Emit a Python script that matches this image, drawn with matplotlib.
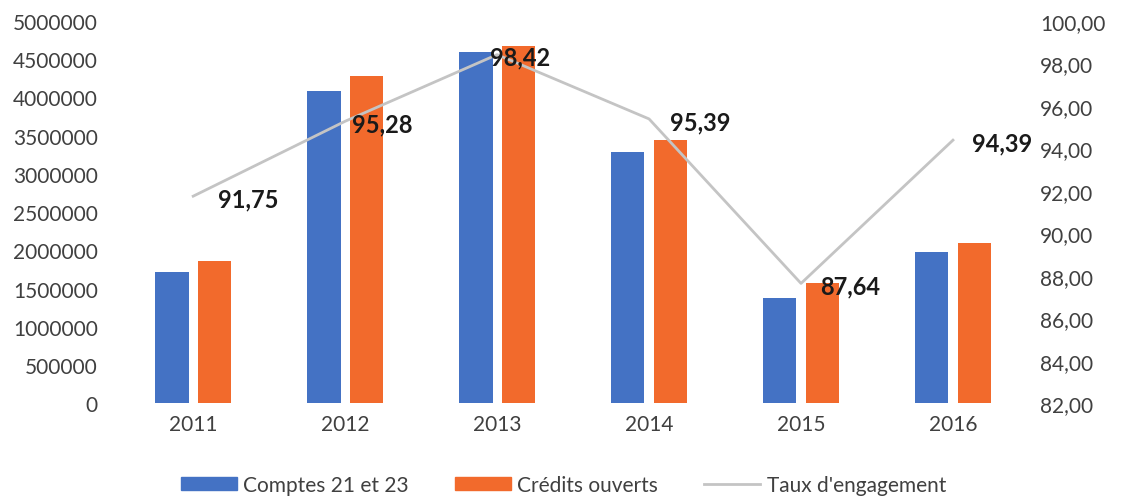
import matplotlib.pyplot as plt
import numpy as np
from matplotlib.patches import Patch
from matplotlib.lines import Line2D

years = ['2011', '2012', '2013', '2014', '2015', '2016']
comptes = [1720000, 4090000, 4600000, 3290000, 1380000, 1980000]
credits = [1860000, 4280000, 4680000, 3450000, 1570000, 2100000]
taux = [91.75, 95.28, 98.42, 95.39, 87.64, 94.39]

blue = '#4472C4'
orange = '#F26A2C'
grey = '#C4C4C4'

plt.rcParams['font.family'] = ['Lato', 'DejaVu Sans']

fig = plt.figure(figsize=(11.27, 5.02), dpi=100)
ax = fig.add_axes([0.104, 0.195, 0.809, 0.761])
x = np.arange(len(years))
w = 0.22
ax.bar(x - 0.14, comptes, w, color=blue)
ax.bar(x + 0.14, credits, w, color=orange)
ax.set_xlim(-0.5, 5.5)
ax.set_ylim(0, 5000000)
ax.set_yticks(np.arange(0, 5000001, 500000))
ax.set_yticklabels([str(v) for v in range(0, 5000001, 500000)], fontsize=15, color='#404040')
ax.set_xticks(x)
ax.set_xticklabels(years, fontsize=15, color='#404040')
ax.tick_params(length=0, pad=8)
ax.tick_params(axis='y', pad=14)
for s in ax.spines.values():
    s.set_visible(False)

ax2 = ax.twinx()
ax2.plot(x, taux, color=grey, lw=2)
ax2.set_ylim(82, 100)
ticks = np.arange(82, 100.1, 2)
ax2.set_yticks(ticks)
ax2.set_yticklabels([f'{t:.2f}'.replace('.', ',') for t in ticks], fontsize=15, color='#404040')
ax2.tick_params(length=0, pad=8)
for s in ax2.spines.values():
    s.set_visible(False)
label_dx = [18, 5, -5, 15, 14, 14]
for xi, t, dx in zip(x, taux, label_dx):
    ax2.annotate(f'{t:.2f}'.replace('.', ','), (xi, t), xytext=(dx, -2), textcoords='offset points',
                 ha='left', va='center', fontsize=17, fontweight='bold', color='#1a1a1a')

handles = [Patch(color=blue, label='Comptes 21 et 23'),
           Patch(color=orange, label='Crédits ouverts'),
           Line2D([], [], color=grey, lw=2, label="Taux d'engagement")]
fig.legend(handles=handles, loc='lower center', bbox_to_anchor=(0.5, -0.025), ncol=3, frameon=False,
           fontsize=15, handlelength=2.7, handleheight=0.6, columnspacing=2.2, handletextpad=0.3,
           labelcolor='#404040')

fig.savefig('out.png', dpi=100)
